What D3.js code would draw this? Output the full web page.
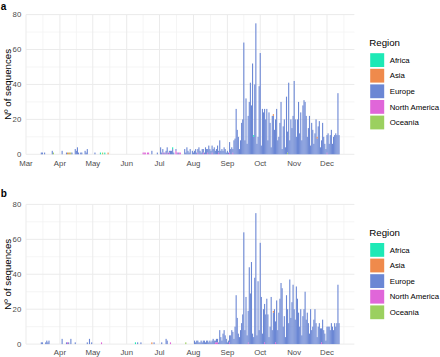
<!DOCTYPE html>
<html>
<head>
<meta charset="utf-8">
<script src="https://cdn.jsdelivr.net/npm/d3@7"></script>
<style>
  body { margin: 0; background: #fff; }
  svg text { font-family: "Liberation Sans", Arial, sans-serif; }
</style>
</head>
<body>
<svg id="chart" width="440" height="357"></svg>
<script>
const regions = ["Africa", "Asia", "Europe", "North America", "Oceania"];
const regionColors = ["#1de9b6", "#ef8a4c", "#6b87d4", "#e066d9", "#9bd05f"];
const yTicks = [0, 20, 40, 60, 80];
const firstDay = "2020-03-01";

// daily Europe counts from Mar 1, one line per month
const europeA = [
  0,0,0,0,0,0,0,0,0,0,0,0,0,0,1,1,0,1,0,0,0,0,0,0,2,0,0,0,0,0,0,
  0,0,2,0,0,0,1,0,0,0,0,1,0,0,3,2,4,1,0,1,1,0,0,2,1,3,0,0,0,0,
  0,0,1,0,0,0,0,0,0,0,0,0,0,0,0,0,0,0,0,0,0,0,0,0,0,0,0,0,0,0,0,
  0,0,0,0,0,0,0,0,0,0,0,0,0,0,0,0,0,0,0,0,0,0,0,2,0,0,0,0,1,0,
  0,4,1,2,1,0,2,3,1,1,2,2,3,1,0,1,0,1,0,0,0,0,0,3,1,4,2,1,3,0,2,
  1,2,3,1,2,4,2,1,3,2,1,4,3,2,5,3,2,4,3,4,2,3,5,1,8,2,3,2,4,3,1,
  2,1,6,3,4,2,8,9,26,14,10,3,8,18,20,64,8,32,6,22,30,41,28,52,10,40,75,6,10,39,
  58,5,26,24,26,20,26,8,24,18,4,22,22,14,20,26,8,10,18,30,3,16,20,4,33,12,41,8,20,15,22,
  42,20,10,20,30,12,24,8,28,31,30,22,10,15,22,5,18,14,6,12,20,9,16,19,4,8,18,10,6,3,
  10,12,6,11,14,6,10,11,12,11,35,11
];

const europeB = [
  0,0,0,0,0,0,0,0,0,0,0,0,0,0,1,1,0,0,1,2,1,2,0,0,0,0,0,0,0,0,0,
  0,0,3,0,0,0,1,0,1,0,3,0,0,0,1,0,0,0,0,0,0,0,0,0,0,1,0,3,0,1,
  0,0,0,0,0,0,0,0,0,0,0,0,0,0,0,0,0,0,0,0,0,0,0,0,0,0,0,0,0,0,0,
  0,0,0,0,0,0,0,0,0,0,1,0,0,1,0,0,0,0,0,0,0,0,0,0,0,1,0,0,0,0,
  0,0,1,0,0,0,3,2,0,0,0,0,0,0,0,0,0,0,0,0,0,0,0,0,0,0,0,0,0,0,0,
  0,2,1,2,2,1,1,2,1,2,2,1,2,2,1,2,1,2,3,2,1,2,2,1,8,4,2,6,8,5,3,
  1,2,4,5,8,7,3,10,28,15,6,4,8,12,17,64,8,27,5,18,44,29,47,6,4,38,75,5,36,8,
  58,27,6,20,22,17,26,17,4,10,27,8,18,20,12,25,8,18,26,35,32,10,16,4,28,20,12,37,15,24,34,
  20,14,33,26,18,10,20,5,16,20,30,14,18,12,6,20,8,10,14,20,12,4,10,12,9,8,14,8,6,2,
  10,10,10,8,12,10,8,12,10,12,34,12
];

// the few sequences from the other regions: [day, region, count]
const othersA = [
  ["2020-03-26", "Oceania", 1],
  ["2020-04-08", "Asia", 1], ["2020-04-09", "Oceania", 1], ["2020-04-10", "Asia", 1], ["2020-04-11", "Oceania", 1],
  ["2020-05-08", "Africa", 1], ["2020-05-10", "Oceania", 1], ["2020-05-12", "Africa", 1], ["2020-05-15", "Asia", 1],
  ["2020-06-16", "North America", 1], ["2020-06-17", "North America", 1], ["2020-06-18", "North America", 1],
  ["2020-06-20", "North America", 1], ["2020-06-21", "North America", 1],
  ["2020-07-04", "North America", 1], ["2020-07-06", "North America", 1], ["2020-07-08", "North America", 1],
  ["2020-07-10", "North America", 1], ["2020-07-13", "Africa", 1], ["2020-07-16", "North America", 2],
  ["2020-07-17", "North America", 1], ["2020-07-19", "North America", 1], ["2020-07-20", "North America", 1],
  ["2020-08-05", "North America", 1], ["2020-08-10", "North America", 1], ["2020-08-14", "North America", 1],
  ["2020-08-18", "North America", 1], ["2020-08-24", "North America", 1],
  ["2020-09-03", "North America", 1], ["2020-09-06", "North America", 1], ["2020-09-25", "Africa", 1],
  ["2020-10-13", "Asia", 1], ["2020-10-26", "Oceania", 1],
  ["2020-11-22", "Asia", 1], ["2020-12-01", "North America", 1]
];

const othersB = [
  ["2020-04-08", "North America", 1], ["2020-05-09", "North America", 1],
  ["2020-06-09", "Africa", 1], ["2020-06-24", "Asia", 1],
  ["2020-07-11", "North America", 1], ["2020-07-25", "Oceania", 1],
  ["2020-08-21", "North America", 1], ["2020-08-22", "North America", 1], ["2020-08-23", "North America", 1],
  ["2020-09-03", "North America", 1], ["2020-09-20", "North America", 1],
  ["2020-10-05", "North America", 1], ["2020-10-13", "Asia", 1], ["2020-10-15", "North America", 1],
  ["2020-11-26", "North America", 1]
];

const parseDay = d3.timeParse("%Y-%m-%d");
const start = parseDay(firstDay);
const svg = d3.select("#chart");
const color = d3.scaleOrdinal().domain(regions).range(regionColors);

// ggplot puts Mar 1 on the left edge and Dec 1 at 327px
const x = d3.scaleTime()
  .domain([parseDay("2020-03-01"), parseDay("2020-12-01")])
  .range([26, 327]);
const panelLeft = 26, panelRight = 354.4, panelHeight = 139.7;
const dayWidth = x(d3.timeDay.offset(start, 1)) - x(start);

function buildRows(europe, others) {
  const rows = europe.map((v, i) => {
    const row = { date: d3.timeDay.offset(start, i) };
    regions.forEach(r => { row[r] = 0; });
    row.Europe = v;
    return row;
  });
  others.forEach(([day, region, n]) => {
    const i = d3.timeDay.count(start, parseDay(day));
    rows[i][region] += n;
  });
  return rows;
}

function drawPanel(rows, top, tag, tagY, monthStarts) {
  const y = d3.scaleLinear().domain([0, 80]).range([top + panelHeight, top]);
  const g = svg.append("g");

  // minor grid (half months, odd tens)
  const months = d3.timeMonth.range(parseDay("2020-02-01"), parseDay("2021-01-01"));
  const minorX = months.map(m => new Date((+m + +d3.timeMonth.offset(m, 1)) / 2))
    .filter(d => x(d) > panelLeft && x(d) < panelRight);
  g.selectAll(".minor-x").data(minorX).join("line")
    .attr("x1", d => x(d)).attr("x2", d => x(d))
    .attr("y1", top).attr("y2", top + panelHeight)
    .attr("stroke", "#f3f3f3").attr("stroke-width", 0.8);
  g.selectAll(".minor-y").data([10, 30, 50, 70]).join("line")
    .attr("x1", panelLeft).attr("x2", panelRight)
    .attr("y1", d => y(d)).attr("y2", d => y(d))
    .attr("stroke", "#f3f3f3").attr("stroke-width", 0.8);

  // major grid
  const majorX = months.filter(d => x(d) >= panelLeft - 0.5 && x(d) < panelRight);
  g.selectAll(".major-x").data(majorX).join("line")
    .attr("x1", d => x(d)).attr("x2", d => x(d))
    .attr("y1", top).attr("y2", top + panelHeight)
    .attr("stroke", "#ebebeb").attr("stroke-width", 1);
  g.selectAll(".major-y").data(yTicks).join("line")
    .attr("x1", panelLeft).attr("x2", panelRight)
    .attr("y1", d => y(d)).attr("y2", d => y(d))
    .attr("stroke", "#ebebeb").attr("stroke-width", 1);

  // stacked daily bars, first level on top like ggplot
  const stacked = d3.stack().keys(regions.slice().reverse())(rows);
  g.append("g").selectAll("g").data(stacked).join("g")
    .attr("fill", s => color(s.key))
    .selectAll("rect")
    .data(s => s.filter(d => d[1] > d[0]))
    .join("rect")
    .attr("x", d => x(d.data.date) - dayWidth * 0.5)
    .attr("width", dayWidth)
    .attr("y", d => y(d[1]))
    .attr("height", d => y(d[0]) - y(d[1]));

  // axes text
  g.selectAll(".ytick").data(yTicks).join("text")
    .attr("x", 21.3).attr("y", d => y(d)).attr("dy", "0.35em")
    .attr("text-anchor", "end").attr("font-size", 7.8).attr("fill", "#4d4d4d")
    .text(d => d);
  g.selectAll(".xtick").data(monthStarts.map(parseDay)).join("text")
    .attr("x", d => x(d)).attr("y", top + panelHeight + 11.2)
    .attr("text-anchor", "middle").attr("font-size", 7.8).attr("fill", "#4d4d4d")
    .text(d3.timeFormat("%b"));
  g.append("text")
    .attr("transform", `translate(11,${top + panelHeight / 2}) rotate(-90)`)
    .attr("text-anchor", "middle").attr("font-size", 9.7).attr("fill", "#000")
    .text("Nº of sequences");
  g.append("text")
    .attr("x", 0.8).attr("y", tagY)
    .attr("font-size", 10).attr("font-weight", "bold").attr("fill", "#000")
    .text(tag);

  // legend
  const legend = g.append("g").attr("transform", `translate(369.3,${top + 31.6})`);
  legend.append("text").attr("x", 0).attr("y", 0)
    .attr("font-size", 9.7).attr("fill", "#000").text("Region");
  const item = legend.selectAll(".item").data(regions).join("g")
    .attr("transform", (d, i) => `translate(0,${7 + i * 15.6})`);
  item.append("rect")
    .attr("x", 0.9).attr("y", 0).attr("width", 14).attr("height", 13.8)
    .attr("fill", d => color(d));
  item.append("text")
    .attr("x", 20.4).attr("y", 6.9).attr("dy", "0.35em")
    .attr("font-size", 7.8).attr("fill", "#000")
    .text(d => d);
}

const allMonths = ["2020-03-01", "2020-04-01", "2020-05-01", "2020-06-01", "2020-07-01",
  "2020-08-01", "2020-09-01", "2020-10-01", "2020-11-01", "2020-12-01"];

drawPanel(buildRows(europeA, othersA), 14.6, "a", 10, allMonths);
drawPanel(buildRows(europeB, othersB), 204.4, "b", 197, allMonths.slice(1));
</script>
</body>
</html>
